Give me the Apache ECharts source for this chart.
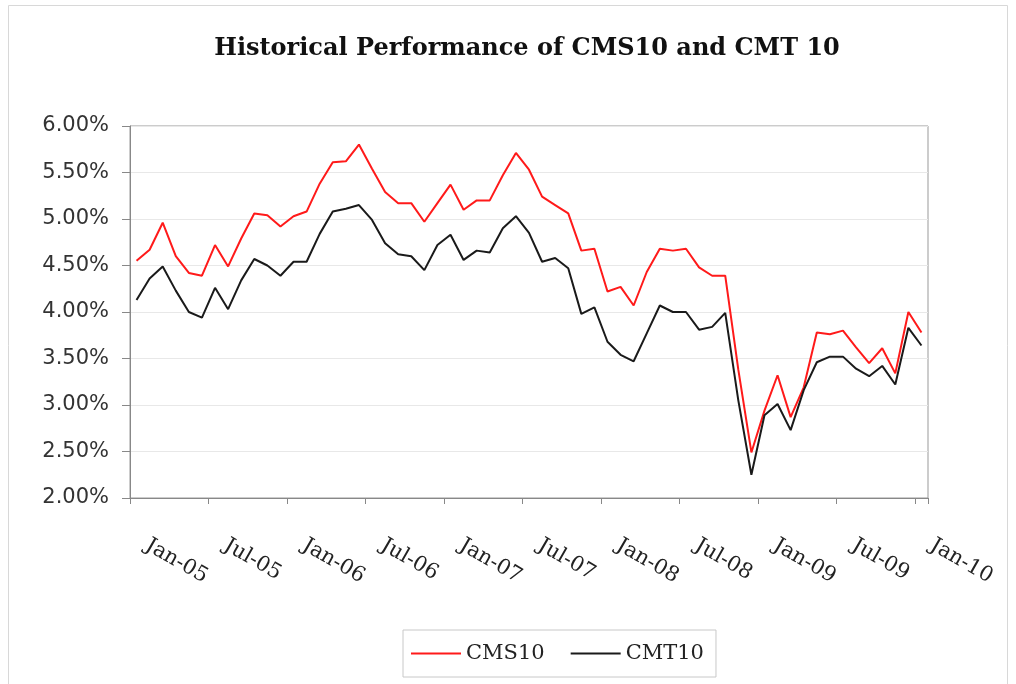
<!DOCTYPE html>
<html>
<head>
<meta charset="utf-8">
<script src="https://cdn.jsdelivr.net/npm/echarts@6/dist/echarts.min.js"></script>
<style>html,body{margin:0;padding:0;background:#fff;}#c{width:1016px;height:684px;}</style>
</head>
<body>
<div id="c"></div>
<script>
const months = [
  'Jan-05','Feb-05','Mar-05','Apr-05','May-05','Jun-05','Jul-05','Aug-05','Sep-05','Oct-05','Nov-05','Dec-05',
  'Jan-06','Feb-06','Mar-06','Apr-06','May-06','Jun-06','Jul-06','Aug-06','Sep-06','Oct-06','Nov-06','Dec-06',
  'Jan-07','Feb-07','Mar-07','Apr-07','May-07','Jun-07','Jul-07','Aug-07','Sep-07','Oct-07','Nov-07','Dec-07',
  'Jan-08','Feb-08','Mar-08','Apr-08','May-08','Jun-08','Jul-08','Aug-08','Sep-08','Oct-08','Nov-08','Dec-08',
  'Jan-09','Feb-09','Mar-09','Apr-09','May-09','Jun-09','Jul-09','Aug-09','Sep-09','Oct-09','Nov-09','Dec-09',
  'Jan-10'
];
const cms10 = [
  4.55,4.67,4.96,4.60,4.42,4.39,4.72,4.49,4.79,5.06,5.04,4.92,
  5.03,5.08,5.38,5.61,5.62,5.80,5.54,5.29,5.17,5.17,4.97,5.17,
  5.37,5.10,5.20,5.20,5.47,5.71,5.53,5.24,5.15,5.06,4.66,4.68,
  4.22,4.27,4.07,4.43,4.68,4.66,4.68,4.48,4.39,4.39,3.38,2.49,
  2.94,3.32,2.87,3.19,3.78,3.76,3.80,3.62,3.45,3.61,3.34,4.00,
  3.78
];
const cmt10 = [
  4.13,4.36,4.49,4.23,4.00,3.94,4.26,4.03,4.34,4.57,4.50,4.39,
  4.54,4.54,4.84,5.08,5.11,5.15,4.99,4.74,4.62,4.60,4.45,4.72,
  4.83,4.56,4.66,4.64,4.90,5.03,4.85,4.54,4.58,4.47,3.98,4.05,
  3.68,3.54,3.47,3.77,4.07,4.00,4.00,3.81,3.84,3.99,3.05,2.25,
  2.89,3.01,2.73,3.16,3.46,3.52,3.52,3.39,3.31,3.42,3.22,3.83,
  3.64
];
const seriesNames = ['CMS10','CMT10'];
const titleText = 'Historical Performance of CMS10 and CMT 10';

const chart = echarts.init(document.getElementById('c'), null, {renderer:'canvas'});
chart.setOption({
  animation: false,
  backgroundColor: '#fff',
  title: {
    text: titleText,
    left: 522, top: 32, textAlign: 'center',
    textStyle: {fontFamily: 'DejaVu Serif', fontWeight: 'bold', fontSize: 24, color: '#111'}
  },
  graphic: [{
    type: 'rect', silent: true, z: -1,
    shape: {x: 8.5, y: 5.5, width: 999, height: 700},
    style: {fill: 'none', stroke: '#d8d8d8', lineWidth: 1}
  }],
  legend: {
    data: seriesNames,
    left: 403, top: 630,
    orient: 'horizontal',
    icon: 'rect', itemWidth: 50, itemHeight: 2, itemGap: 26,
    borderColor: '#c8c8c8', borderWidth: 1,
    padding: [13, 12, 13, 8],
    textStyle: {fontFamily: 'DejaVu Serif', fontSize: 21, color: '#222'}
  },
  grid: {
    left: 130, right: 88, top: 126, bottom: 186,
    show: true, borderColor: '#999', borderWidth: 1, containLabel: false
  },
  xAxis: {
    type: 'category', data: months, boundaryGap: true,
    axisLine: {lineStyle: {color: '#888', width: 1}},
    axisTick: {show: true, interval: 5, length: 6, lineStyle: {color: '#888'}},
    axisLabel: {
      interval: 5, rotate: -30, margin: 40, padding: [0,0,0,12],
      fontFamily: 'DejaVu Serif', fontSize: 21, color: '#222'
    },
    splitLine: {show: false}
  },
  yAxis: {
    type: 'value', min: 2, max: 6, interval: 0.5,
    axisLine: {show: true, lineStyle: {color: '#888', width: 1}},
    axisTick: {show: true, length: 8, lineStyle: {color: '#888'}},
    axisLabel: {
      margin: 21, fontFamily: 'DejaVu Sans', fontSize: 21, color: '#333',
      formatter: v => v.toFixed(2) + '%'
    },
    splitLine: {show: true, lineStyle: {color: '#e8e8e8', width: 1}}
  },
  series: [
    {name: seriesNames[0], type: 'line', data: cms10, showSymbol: false, symbol: 'none',
     lineStyle: {color: '#ff1a1a', width: 2}, itemStyle: {color: '#ff1a1a'}},
    {name: seriesNames[1], type: 'line', data: cmt10, showSymbol: false, symbol: 'none',
     lineStyle: {color: '#1a1a1a', width: 2}, itemStyle: {color: '#1a1a1a'}}
  ]
});
</script>
</body>
</html>
